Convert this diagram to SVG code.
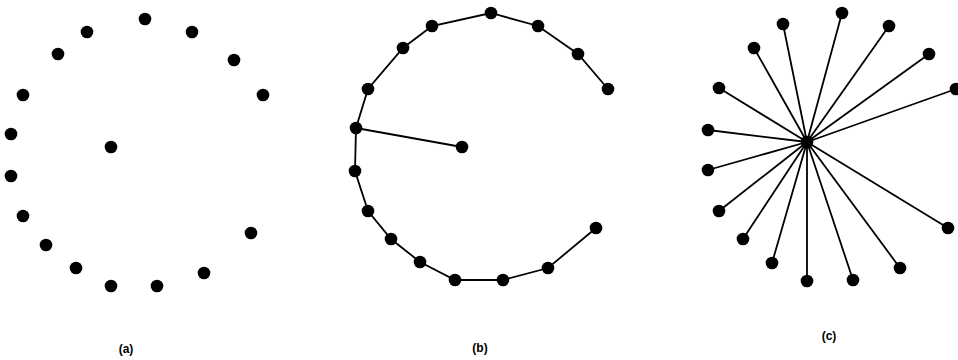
<svg xmlns="http://www.w3.org/2000/svg" width="958" height="360" viewBox="0 0 958 360">
<style>
.n{fill:#000}
.e{stroke:#000;stroke-width:1.8;fill:none}
.t{font-family:"Liberation Sans",Arial,sans-serif;font-size:12px;font-weight:bold;fill:#000}
</style>
<defs><circle id="d" r="6.3"/></defs>
<rect width="958" height="360" fill="#fff"/>
<g id="connectors">
<polyline class="e" points="608,89 578,54 538,26 491,13 432,26 403,48 368,89 356,128 355,171 368,211 391,239 420,262 455,280 503,280 548,268 596,228"/>
<line class="e" x1="356" y1="128" x2="462" y2="147"/>
<g transform="translate(807,142)">
<path class="e" d="M0,0L35,-129M0,0L82,-116M0,0L-24,-118M0,0L-53,-94M0,0L122,-88M0,0L-88,-54M0,0L149,-53M0,0L-99,-12M0,0L-99,28M0,0L-88,69M0,0L-64,97M0,0L-35,121M0,0L0,139M0,0L46,138M0,0L93,126M0,0L141,86"/>
</g>
</g>
<g id="panel-a" class="n">
<use href="#d" x="145" y="19"/><use href="#d" x="87" y="32"/><use href="#d" x="192" y="32"/><use href="#d" x="58" y="54"/><use href="#d" x="234" y="60"/><use href="#d" x="23" y="95"/><use href="#d" x="263" y="95"/><use href="#d" x="11" y="134"/><use href="#d" x="111" y="147"/><use href="#d" x="11" y="176"/><use href="#d" x="23" y="216"/><use href="#d" x="46" y="245"/><use href="#d" x="76" y="268"/><use href="#d" x="251" y="233"/><use href="#d" x="204" y="273"/><use href="#d" x="111" y="286"/><use href="#d" x="157" y="286"/>
</g>
<g id="panel-b" class="n">
<use href="#d" x="491" y="13"/><use href="#d" x="538" y="26"/><use href="#d" x="432" y="26"/><use href="#d" x="403" y="48"/><use href="#d" x="578" y="54"/><use href="#d" x="368" y="89"/><use href="#d" x="608" y="89"/><use href="#d" x="356" y="128"/><use href="#d" x="462" y="147"/><use href="#d" x="355" y="171"/><use href="#d" x="368" y="211"/><use href="#d" x="391" y="239"/><use href="#d" x="420" y="262"/><use href="#d" x="455" y="280"/><use href="#d" x="503" y="280"/><use href="#d" x="548" y="268"/><use href="#d" x="596" y="228"/>
</g>
<g id="panel-c" class="n">
<use href="#d" x="807" y="142"/><use href="#d" x="842" y="13"/><use href="#d" x="889" y="26"/><use href="#d" x="783" y="24"/><use href="#d" x="754" y="48"/><use href="#d" x="929" y="54"/><use href="#d" x="719" y="88"/><use href="#d" x="956" y="89"/><use href="#d" x="708" y="130"/><use href="#d" x="708" y="170"/><use href="#d" x="719" y="211"/><use href="#d" x="743" y="239"/><use href="#d" x="772" y="263"/><use href="#d" x="807" y="281"/><use href="#d" x="853" y="280"/><use href="#d" x="900" y="268"/><use href="#d" x="948" y="228"/>
</g>
<g id="labels">
<text class="t" x="126" y="353" text-anchor="middle">(a)</text>
<text class="t" x="480" y="352" text-anchor="middle">(b)</text>
<text class="t" x="829" y="340" text-anchor="middle">(c)</text>
</g>
</svg>
